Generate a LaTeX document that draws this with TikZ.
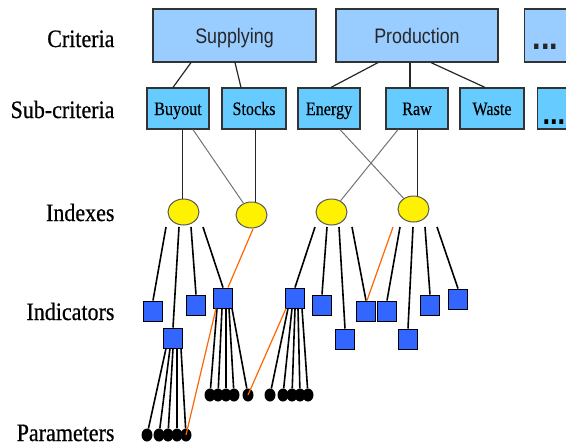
\documentclass[tikz,border=0pt]{standalone}
\usepackage{fontspec}
\setmainfont{Liberation Serif}
\newfontfamily\levelfont[FakeStretch=0.88, FakeBold=0.6]{Liberation Serif}
\newfontfamily\subfont[FakeStretch=0.85, FakeBold=0.4]{Liberation Serif}
\newfontfamily\critfont[FakeStretch=0.85]{Liberation Sans}
\usetikzlibrary{calc, shapes.geometric}

\definecolor{critfill}{HTML}{99CCFF}
\definecolor{subfill}{HTML}{66CCFF}
\definecolor{indfill}{HTML}{3366FF}
\definecolor{linkorange}{HTML}{FF6600}
\definecolor{boxline}{HTML}{333333}

\begin{document}
\begin{tikzpicture}[x=1pt, y=-1pt,
		level/.style={anchor=base east, font=\levelfont\fontsize{25}{28}\selectfont},
		crit/.style={draw=boxline, line width=1.2pt, fill=critfill, minimum height=53pt, text height=15pt, text depth=0pt, inner sep=0pt, font=\critfont\fontsize{21}{24}\selectfont, text=black!85},
		subcrit/.style={draw=boxline, line width=1.2pt, fill=subfill, minimum height=41pt, text height=13pt, text depth=0pt, inner sep=0pt, font=\subfont\fontsize{19}{22}\selectfont},
		index/.style={ellipse, draw=black!65, line width=1pt, fill=yellow, minimum width=31pt, minimum height=26pt, inner sep=0pt},
		indic/.style={draw=black, line width=1pt, fill=indfill, minimum width=19pt, minimum height=20pt, inner sep=0pt},
		param/.style={ellipse, fill=black, minimum width=11pt, minimum height=13pt, inner sep=0pt},
		tree/.style={line width=1.2pt, black!85},
		vert/.style={line width=1pt, black!85},
		cross/.style={line width=1pt, black!55},
		fan/.style={line width=1.6pt, black},
		link/.style={line width=1.2pt, linkorange}]

		\useasboundingbox (0,0) rectangle (566,445);
		\clip (0,0) rectangle (566,445);

		% Level names
		\node[level] (lcrit) at (118,47) {Criteria};
		\node[level] (lsub) at (118,118) {Sub-criteria};
		\node[level] (lidx) at (118,221) {Indexes};
		\node[level] (lind) at (118,320) {Indicators};
		\node[level] (lpar) at (118,441) {Parameters};

		% Criteria
		\node[crit, minimum width=163pt] (supply) at (234.5,35.5) {Supplying};
		\node[crit, minimum width=162pt] (prod) at (417,35.5) {Production};
		\node[crit, anchor=west, minimum width=70pt, text width=54pt, align=left, inner xsep=8pt, text height=27pt, font=\critfont\bfseries\fontsize{36}{40}\selectfont] (critmore) at (524,35.5) {...};

		% Sub-criteria
		\node[subcrit, minimum width=62pt] (buyout) at (178,108.5) {Buyout};
		\node[subcrit, minimum width=64pt] (stocks) at (254,108.5) {Stocks};
		\node[subcrit, minimum width=62pt] (energy) at (329,108.5) {Energy};
		\node[subcrit, minimum width=62pt] (raw) at (417,108.5) {Raw};
		\node[subcrit, minimum width=64pt] (waste) at (492,108.5) {Waste};
		\node[subcrit, anchor=west, minimum width=62pt, text width=52pt, align=left, inner xsep=5pt, text height=32pt, font=\critfont\bfseries\fontsize{32}{36}\selectfont] (submore) at (537,108.5) {...};

		% Criteria to sub-criteria
		\draw[tree] ([xshift=-43.5pt]supply.south) -- ([xshift=-5pt]buyout.north);
		\draw[tree] ([xshift=0.5pt]supply.south) -- ([xshift=-13pt]stocks.north);
		\draw[tree] ([xshift=-39pt]prod.south) -- ([xshift=2pt]energy.north);
		\draw[tree] ([xshift=-7pt]prod.south) -- ([xshift=-7pt]raw.north);
		\draw[tree] ([xshift=14pt]prod.south) -- ([xshift=-7pt]waste.north);

		% Indexes
		\node[index] (e1) at (183.5,212) {};
		\node[index] (e2) at (251.5,215) {};
		\node[index] (e3) at (331.5,212) {};
		\node[index] (e4) at (413.5,209) {};

		% Sub-criteria to indexes
		\draw[vert] ([xshift=4pt]buyout.south) -- ([xshift=-1.5pt]e1.north);
		\draw[cross] ([xshift=15pt]buyout.south) -- (e2);
		\draw[vert] ([xshift=1pt]stocks.south) -- ([xshift=3.5pt]e2.north);
		\draw[cross] ([xshift=11pt]energy.south) -- (e4);
		\draw[cross] ([xshift=-19pt]raw.south) -- (e3);
		\draw[vert] ([xshift=0.5pt]raw.south) -- ([xshift=4pt]e4.north);

		% Indicators
		\node[indic] (i1) at (153,311) {};
		\node[indic] (i2) at (173,338) {};
		\node[indic] (i3) at (196,305) {};
		\node[indic] (i4) at (223,298) {};
		\node[indic] (i5) at (295,298) {};
		\node[indic] (i6) at (322,305) {};
		\node[indic] (i7) at (345,339) {};
		\node[indic] (i8) at (366,311) {};
		\node[indic] (i9) at (387,311) {};
		\node[indic] (i10) at (408,339) {};
		\node[indic] (i11) at (430,305) {};
		\node[indic] (i12) at (458,299) {};

		% Indexes to indicators
		\foreach \dx/\t in {-17.5/i1, -4.5/i2, 7.5/i3, 19.5/i4}
			\draw[fan] ($(e1)+(\dx,15)$) -- (\t.north);
		\draw[link] ($(e2)+(1.5,14)$) -- ([xshift=5pt]i4.north);
		\foreach \dx/\t in {-16.5/i5, -4.5/i6, 7.5/i7, 20.5/i8}
			\draw[fan] ($(e3)+(\dx,15)$) -- (\t.north);
		\draw[link] ($(e4)+(-20.5,18)$) -- ([xshift=1pt]i8.north);
		\foreach \dx/\t in {-13.5/i9, -0.5/i10, 11.5/i11, 23.5/i12}
			\draw[fan] ($(e4)+(\dx,18)$) -- (\t.north);

		% Parameters
		\foreach \x [count=\k] in {147,159,168,177,186}
			\node[param] (pa\k) at (\x,435) {};
		\foreach \x [count=\k] in {210,218,226,234,248}
			\node[param] (pb\k) at (\x,395) {};
		\foreach \x [count=\k] in {270,283,292,300,308}
			\node[param] (pc\k) at (\x,395) {};

		% Indicators to parameters
		\foreach \dx [count=\k] in {-7,-3,0,4,8}
			\draw[fan] ($(i2.south)+(\dx,0)$) -- (pa\k);
		\foreach \dx [count=\k] in {-6,-1,3,6,9}
			\draw[fan] ($(i4.south)+(\dx,0)$) -- (pb\k);
		\foreach \dx [count=\k] in {-7,-3,0,3,7}
			\draw[fan] ($(i5.south)+(\dx,0)$) -- (pc\k);
		\draw[link] ($(i4.south west)+(3,0)$) -- (pa5.center);
		\draw[link] ($(i5.south west)+(1,0)$) -- (pb5.center);

	\end{tikzpicture}
\end{document}
